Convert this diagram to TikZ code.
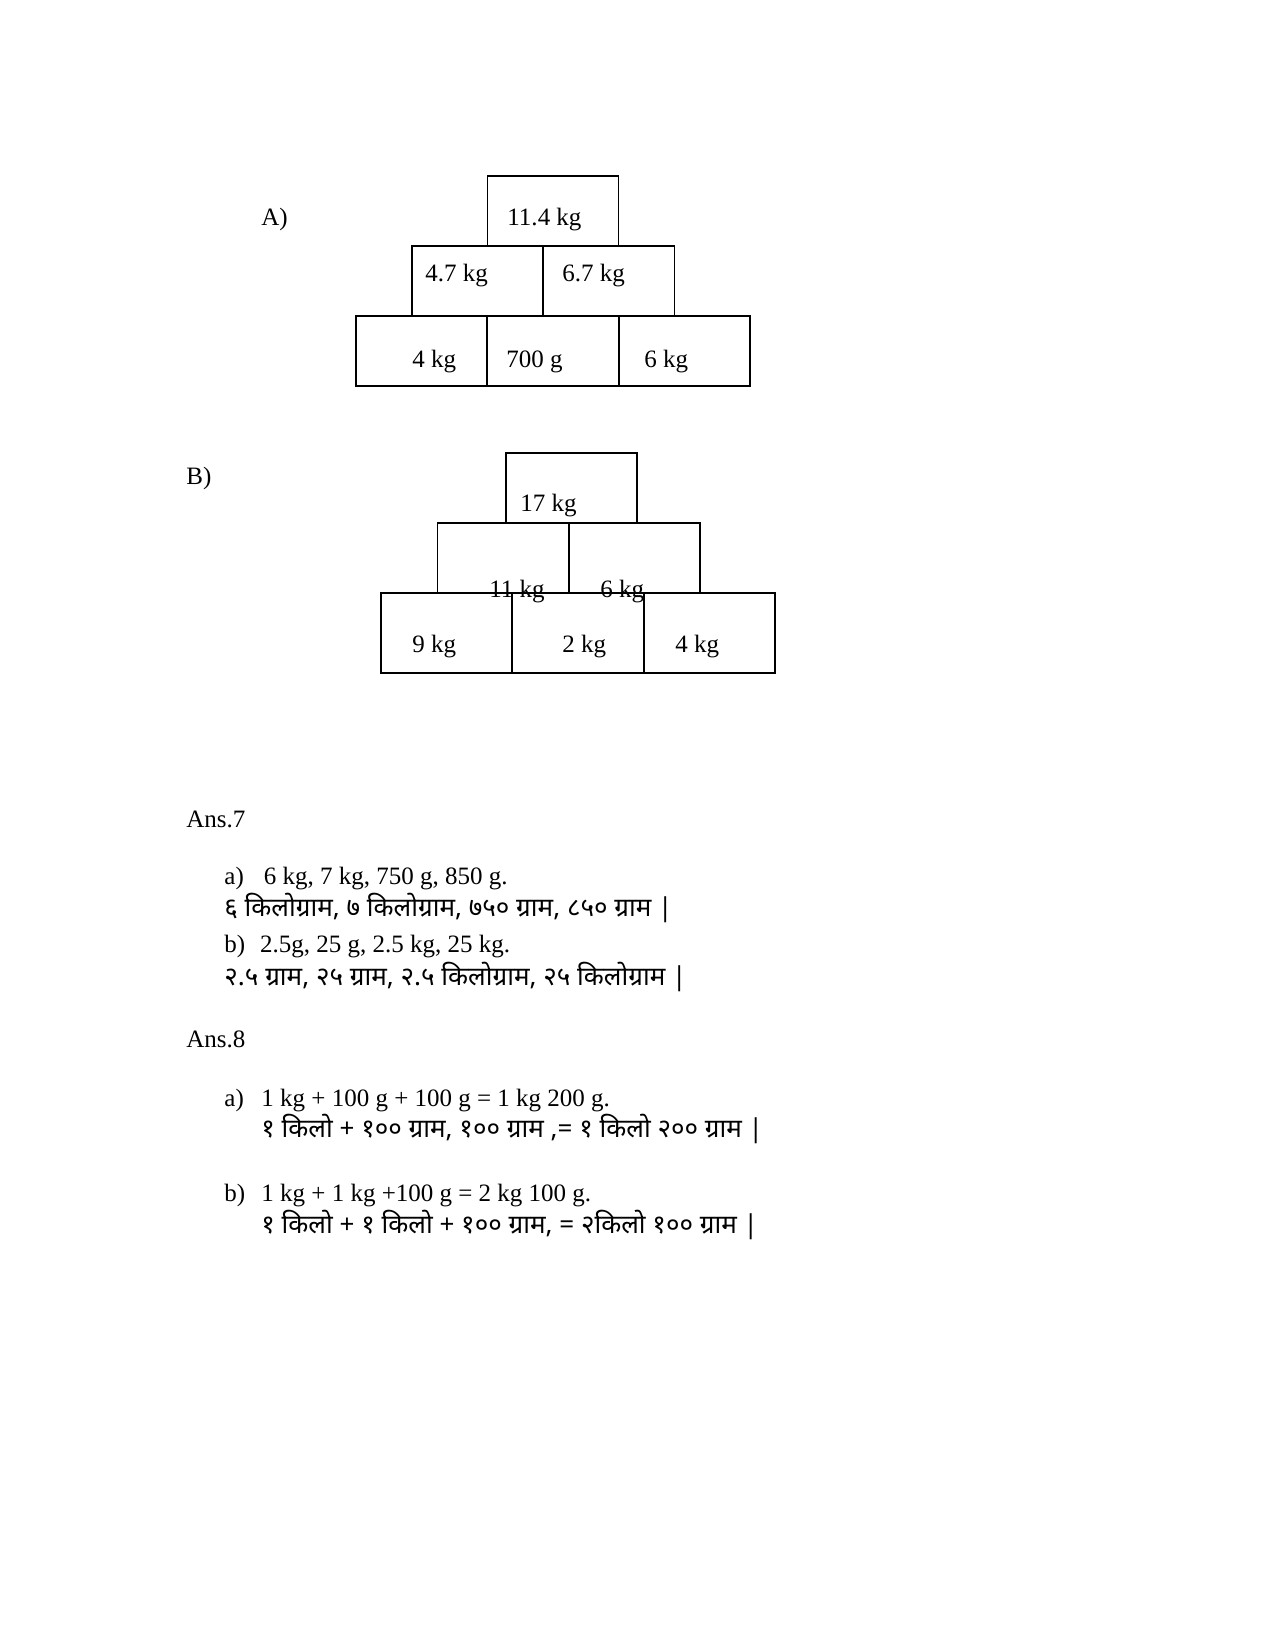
\documentclass[tikz,border=0pt]{standalone}
\usepackage{fontspec}
\setmainfont{Liberation Serif}
\newfontfamily\dev[Script=Devanagari]{Noto Sans}
\begin{document}
\begin{tikzpicture}[x=0.48pt,y=-0.48pt,
  box/.style={draw,line width=0.8pt,minimum width=131*0.48pt,minimum height=70*0.48pt,inner sep=0pt},
  lbl/.style={anchor=base west,inner sep=0pt,font=\fontsize{12}{14}\selectfont},
  dv/.style={anchor=base west,inner sep=0pt,font=\dev\fontsize{12.5}{15}\selectfont}]
\useasboundingbox (0,0) rectangle (1275,1651);
% Pyramid A
\node[box] (a1) at (553,211) {};
\node[box] (a2) at (477.5,281) {};
\node[box] (a3) at (609,281) {};
\node[box] (a4) at (421.5,351) {};
\node[box] (a5) at (553,351) {};
\node[box] (a6) at (684.5,351) {};
\node[lbl] (ta) at (261,226) {A)};
\node[lbl] (t1) at (507,226) {11.4 kg};
\node[lbl] (t2) at (425,281) {4.7 kg};
\node[lbl] (t3) at (562,281) {6.7 kg};
\node[lbl] (t4) at (412,367) {4 kg};
\node[lbl] (t5) at (506,367) {700 g};
\node[lbl] (t6) at (644,367) {6 kg};
% Pyramid B
\node[box] (b1) at (571.5,488) {};
\node[box] (b2) at (503,558) {};
\node[box] (b3) at (634.5,558) {};
\node[box,minimum height=80*0.48pt] (b4) at (446.5,633) {};
\node[box,minimum height=80*0.48pt] (b5) at (578,633) {};
\node[box,minimum height=80*0.48pt] (b6) at (709.5,633) {};
\node[lbl] (tb) at (186,484) {B)};
\node[lbl] (s1) at (520,511) {17 kg};
\node[lbl] (s2) at (489,597) {11 kg};
\node[lbl] (s3) at (600,597) {6 kg};
\node[lbl] (s4) at (412,652) {9 kg};
\node[lbl] (s5) at (562,652) {2 kg};
\node[lbl] (s6) at (675,652) {4 kg};
% Answers
\node[lbl] (n7) at (186,827) {Ans.7};
\node[lbl] (n7a) at (224,884) {a)\hspace{0.8em}6 kg, 7 kg, 750 g, 850 g.};
\node[dv] (n7ad) at (224,916) {६ किलोग्राम, ७ किलोग्राम, ७५० ग्राम, ८५० ग्राम |};
\node[lbl] (n7b) at (224,952) {b)\hspace{0.6em}2.5g, 25 g, 2.5 kg, 25 kg.};
\node[dv] (n7bd) at (224,985) {२.५ ग्राम, २५ ग्राम, २.५ किलोग्राम, २५ किलोग्राम |};
\node[lbl] (n8) at (186,1047) {Ans.8};
\node[lbl] (n8a) at (224,1106) {a)};
\node[lbl] (n8at) at (261,1106) {1 kg + 100 g + 100 g = 1 kg 200 g.};
\node[dv] (n8ad) at (261,1137) {१ किलो + १०० ग्राम, १०० ग्राम ,= १ किलो २०० ग्राम |};
\node[lbl] (n8b) at (224,1201) {b)};
\node[lbl] (n8bt) at (261,1201) {1 kg + 1 kg +100 g = 2 kg 100 g.};
\node[dv] (n8bd) at (261,1233) {१ किलो + १ किलो + १०० ग्राम, = २किलो १०० ग्राम |};
\end{tikzpicture}
\end{document}
